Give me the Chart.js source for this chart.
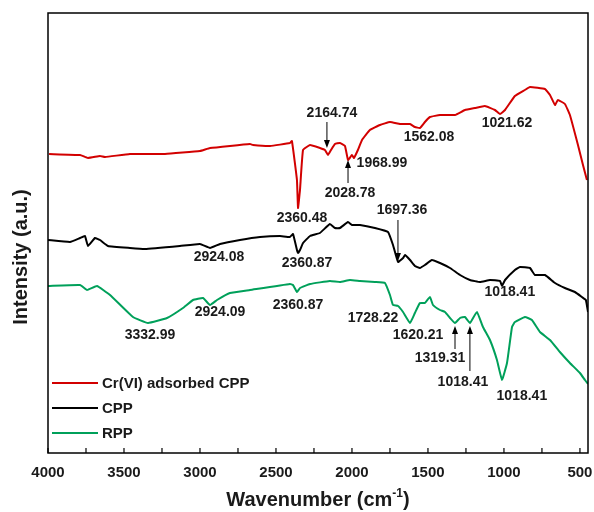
<!DOCTYPE html>
<html lang="en">
<head>
  <meta charset="utf-8">
  <title>FTIR spectra</title>
  <script src="https://cdn.jsdelivr.net/npm/chart.js"></script>
  <style>
    html, body { margin: 0; padding: 0; background: #fff; }
    #box { width: 594px; height: 512px; }
  </style>
</head>
<body>
  <div id="box"><canvas id="ftirChart"></canvas></div>

  <script>
    // 数据（横坐标：波数 cm-1，纵坐标：强度 a.u.）
    const seriesNames = ['Cr(VI) adsorbed CPP', 'CPP', 'RPP'];

    const redWave = [3993, 3789, 3737, 3658, 3625, 3461, 3230, 3000, 2934, 2671, 2651, 2539, 2408, 2395, 2362, 2355, 2342, 2322, 2276, 2211, 2178, 2158, 2138, 2112, 2079, 2046, 2026, 2000, 1987, 1961, 1934, 1882, 1816, 1750, 1684, 1618, 1586, 1553, 1520, 1487, 1421, 1322, 1257, 1191, 1125, 1059, 1026, 993, 928, 862, 829, 730, 697, 664, 645, 599, 566, 513, 480, 454];
    const redInt = [299, 298, 295, 297, 296, 299, 299, 302, 305, 309, 308, 307, 310, 312, 273, 245, 263, 303, 308, 305, 303, 298, 303, 309, 310, 307, 293, 298, 295, 303, 313, 323, 328, 331, 329, 329, 326, 325, 331, 336, 338, 338, 343, 345, 347, 343, 339, 343, 357, 363, 366, 364, 358, 348, 353, 349, 338, 308, 288, 273];

    const blackWave = [4000, 3855, 3789, 3757, 3737, 3691, 3658, 3605, 3461, 3362, 3132, 3000, 2934, 2868, 2737, 2605, 2474, 2408, 2388, 2362, 2355, 2342, 2322, 2276, 2211, 2145, 2112, 2079, 2026, 2000, 1947, 1849, 1763, 1730, 1697, 1664, 1651, 1618, 1586, 1553, 1520, 1474, 1421, 1355, 1289, 1224, 1158, 1092, 1026, 1013, 993, 928, 895, 829, 796, 730, 664, 599, 533, 487, 461, 447];
    const blackInt = [213, 211, 215, 217, 207, 215, 213, 207, 205, 204, 207, 209, 205, 209, 213, 216, 217, 216, 219, 203, 200, 203, 210, 217, 220, 229, 225, 225, 231, 228, 228, 225, 221, 208, 191, 195, 198, 193, 187, 185, 188, 193, 190, 185, 178, 173, 171, 173, 172, 167, 173, 183, 186, 185, 178, 178, 170, 165, 161, 156, 153, 141];

    const greenWave = [4000, 3789, 3743, 3678, 3592, 3441, 3342, 3217, 3112, 3046, 2980, 2934, 2888, 2803, 2671, 2408, 2388, 2362, 2342, 2276, 2145, 2079, 2013, 1947, 1849, 1783, 1750, 1730, 1697, 1664, 1618, 1586, 1553, 1520, 1487, 1467, 1421, 1388, 1355, 1322, 1289, 1257, 1224, 1178, 1138, 1092, 1046, 1013, 980, 947, 928, 862, 816, 763, 697, 632, 566, 500, 467, 447];
    const greenInt = [167, 168, 163, 167, 158, 136, 130, 135, 145, 153, 155, 148, 153, 160, 163, 169, 168, 161, 165, 169, 172, 171, 173, 172, 171, 170, 158, 148, 147, 141, 130, 140, 150, 150, 156, 148, 143, 141, 135, 130, 135, 136, 130, 141, 126, 113, 93, 73, 90, 126, 131, 136, 133, 121, 113, 101, 90, 80, 73, 69];

    const tickLabels = [4000, 3500, 3000, 2500, 2000, 1500, 1000, 500];
    const minorTicks = [3750, 3250, 2750, 2250, 1750, 1250, 750];

    // 峰位标注：文字、中心位置（波数、强度），箭头（波数、起点、终点）
    const peakLabels = [
      { text: '2164.74', w: 2132, i: 340, arrow: [2164.74, 331, 305] },
      { text: '1968.99', w: 1803, i: 290 },
      { text: '2028.78', w: 2013, i: 260, arrow: [2026, 270, 293] },
      { text: '1562.08', w: 1493, i: 316 },
      { text: '1021.62', w: 980, i: 330 },
      { text: '2360.48', w: 2329, i: 235 },
      { text: '2924.08', w: 2875, i: 196 },
      { text: '2360.87', w: 2296, i: 190 },
      { text: '1697.36', w: 1671, i: 243, arrow: [1697.36, 233, 192] },
      { text: '1018.41', w: 961, i: 161 },
      { text: '2360.87', w: 2355, i: 148 },
      { text: '3332.99', w: 3329, i: 118 },
      { text: '2924.09', w: 2868, i: 141 },
      { text: '1728.22', w: 1862, i: 135 },
      { text: '1620.21', w: 1566, i: 118 },
      { text: '1319.31', w: 1421, i: 95, arrow: [1322, 104, 127] },
      { text: '1018.41', w: 1270, i: 71, arrow: [1224, 82, 127] },
      { text: '1018.41', w: 882, i: 57 }
    ];

    const colors = ['#d20000', '#000000', '#00a05a'];

    function toPoints(xs, ys) {
      return xs.map((x, k) => ({ x: x, y: ys[k] }));
    }

    const FAMILY = 'Arial, "Liberation Sans", sans-serif';

    // 画边框、内刻度、刻度标签、坐标轴标题、峰位标注和图例
    const decorations = {
      id: 'decorations',
      afterDatasetsDraw(chart) {
        const ctx = chart.ctx;
        const a = chart.chartArea;
        const xs = chart.scales.x;
        const ys = chart.scales.y;
        ctx.save();

        // 边框
        ctx.strokeStyle = '#000';
        ctx.lineWidth = 1.5;
        ctx.strokeRect(a.left, a.top, a.right - a.left, a.bottom - a.top);

        // 刻度（向内）
        ctx.lineWidth = 1.2;
        tickLabels.concat(minorTicks).forEach(v => {
          const px = xs.getPixelForValue(v);
          ctx.beginPath();
          ctx.moveTo(px, a.bottom);
          ctx.lineTo(px, a.bottom - 5);
          ctx.stroke();
        });

        // 刻度标签
        ctx.fillStyle = '#1a1a1a';
        ctx.font = 'bold 15px ' + FAMILY;
        ctx.textAlign = 'center';
        ctx.textBaseline = 'middle';
        tickLabels.forEach(v => {
          ctx.fillText(String(v), xs.getPixelForValue(v), a.bottom + 20);
        });

        // 峰位标注
        ctx.font = 'bold 14px ' + FAMILY;
        peakLabels.forEach(p => {
          ctx.fillText(p.text, xs.getPixelForValue(p.w), ys.getPixelForValue(p.i));
          if (p.arrow) {
            const ax = xs.getPixelForValue(p.arrow[0]);
            const y1 = ys.getPixelForValue(p.arrow[1]);
            const y2 = ys.getPixelForValue(p.arrow[2]);
            const dir = y2 > y1 ? 1 : -1;
            ctx.strokeStyle = '#000';
            ctx.lineWidth = 1;
            ctx.beginPath();
            ctx.moveTo(ax, y1);
            ctx.lineTo(ax, y2 - dir * 6);
            ctx.stroke();
            ctx.beginPath();
            ctx.moveTo(ax, y2);
            ctx.lineTo(ax - 3, y2 - dir * 8);
            ctx.lineTo(ax + 3, y2 - dir * 8);
            ctx.closePath();
            ctx.fillStyle = '#000';
            ctx.fill();
            ctx.fillStyle = '#1a1a1a';
          }
        });

        // 图例
        ctx.font = 'bold 15px ' + FAMILY;
        ctx.textAlign = 'left';
        chart.data.datasets.forEach((ds, k) => {
          const ly = 383 + k * 25;
          ctx.strokeStyle = ds.borderColor;
          ctx.lineWidth = 2;
          ctx.beginPath();
          ctx.moveTo(a.left + 4, ly);
          ctx.lineTo(a.left + 50, ly);
          ctx.stroke();
          ctx.fillStyle = '#1a1a1a';
          ctx.fillText(ds.label, a.left + 54, ly + 1);
        });

        // x 轴标题（带上标）
        ctx.fillStyle = '#1a1a1a';
        ctx.textBaseline = 'alphabetic';
        const big = 'bold 20px ' + FAMILY;
        const small = 'bold 12px ' + FAMILY;
        const t1 = 'Wavenumber (cm', t2 = '-1', t3 = ')';
        ctx.font = big;
        const w1 = ctx.measureText(t1).width, w3 = ctx.measureText(t3).width;
        ctx.font = small;
        const w2 = ctx.measureText(t2).width;
        let tx = (a.left + a.right) / 2 - (w1 + w2 + w3) / 2;
        const by = 506;
        ctx.font = big;
        ctx.fillText(t1, tx, by);
        tx += w1;
        ctx.font = small;
        ctx.fillText(t2, tx, by - 9);
        tx += w2;
        ctx.font = big;
        ctx.fillText(t3, tx, by);

        // y 轴标题
        ctx.translate(21, 257);
        ctx.rotate(-Math.PI / 2);
        ctx.textAlign = 'center';
        ctx.textBaseline = 'middle';
        ctx.font = 'bold 20px ' + FAMILY;
        ctx.fillText('Intensity (a.u.)', 0, 0);

        ctx.restore();
      }
    };

    const datasets = [
      toPoints(redWave, redInt),
      toPoints(blackWave, blackInt),
      toPoints(greenWave, greenInt)
    ].map((pts, k) => ({
      label: seriesNames[k],
      data: pts,
      borderColor: colors[k],
      backgroundColor: colors[k],
      borderWidth: 2,
      pointRadius: 0,
      tension: 0.1,
      fill: false
    }));

    new Chart(document.getElementById('ftirChart'), {
      type: 'line',
      data: { datasets: datasets },
      options: {
        responsive: true,
        maintainAspectRatio: false,
        animation: false,
        layout: { padding: { left: 48, right: 6, top: 13, bottom: 59 } },
        plugins: {
          legend: { display: false },
          tooltip: { enabled: false }
        },
        scales: {
          x: {
            type: 'linear',
            reverse: true,
            min: 447,
            max: 4000,
            display: false
          },
          y: {
            display: false,
            min: 0,
            max: 440
          }
        }
      },
      plugins: [decorations]
    });
  </script>
</body>
</html>
